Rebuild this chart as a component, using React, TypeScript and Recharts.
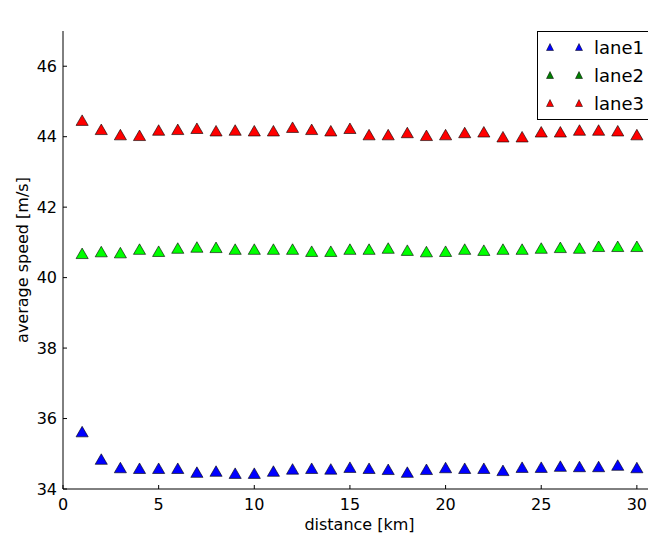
import React from 'react';
import { ScatterChart, Scatter, XAxis, YAxis, ZAxis, Label } from 'recharts';

const distance = [1, 2, 3, 4, 5, 6, 7, 8, 9, 10, 11, 12, 13, 14, 15, 16, 17, 18, 19, 20, 21, 22, 23, 24, 25, 26, 27, 28, 29, 30];

const lane1 = [35.58, 34.8, 34.56, 34.54, 34.54, 34.54, 34.43, 34.46, 34.4, 34.4, 34.46, 34.52, 34.54, 34.52, 34.57,
  34.54, 34.51, 34.43, 34.51, 34.56, 34.54, 34.54, 34.48, 34.57, 34.57, 34.6, 34.59, 34.59, 34.63, 34.56];

const lane2 = [40.64, 40.69, 40.66, 40.76, 40.7, 40.79, 40.82, 40.81, 40.76, 40.76, 40.76, 40.76, 40.7, 40.7, 40.76,
  40.76, 40.79, 40.73, 40.69, 40.7, 40.76, 40.73, 40.76, 40.76, 40.79, 40.81, 40.79, 40.84, 40.84, 40.84];

const lane3 = [44.42, 44.16, 44.01, 43.99, 44.14, 44.16, 44.19, 44.12, 44.14, 44.12, 44.12, 44.22, 44.16, 44.12, 44.19,
  44.01, 44.01, 44.07, 43.99, 44.01, 44.07, 44.09, 43.95, 43.95, 44.09, 44.09, 44.14, 44.14, 44.12, 44.01];

const xTicks = [0, 5, 10, 15, 20, 25, 30];
const yTicks = [34, 36, 38, 40, 42, 44, 46];

const lanes = [
  { name: 'lane1', values: lane1, fill: '#0000ff', legend: '#0000ff' },
  { name: 'lane2', values: lane2, fill: '#00ff00', legend: '#007f00' },
  { name: 'lane3', values: lane3, fill: '#ff0000', legend: '#ff0000' },
];

const toPoints = (values: number[]) => distance.map((d, i) => ({ x: d, y: values[i] }));

const font = 'DejaVu Sans, sans-serif';
const tickStyle = { fontSize: 16, fill: '#000', fontFamily: font };

const LegendTriangle = ({ color }: { color: string }) => (
  <svg width={10} height={10} style={{ display: 'block' }}>
    <polygon points="5,1.5 1.5,8.5 8.5,8.5" fill={color} stroke="#000" strokeWidth={0.5} />
  </svg>
);

const LaneLegend = () => (
  <div
    style={{
      position: 'absolute',
      left: 537,
      top: 31,
      width: 140,
      height: 89,
      border: '1px solid #000',
      background: '#fff',
      boxSizing: 'border-box',
      fontFamily: font,
      fontSize: 18,
    }}
  >
    {lanes.map((l, i) => (
      <div key={l.name} style={{ position: 'absolute', top: 2 + i * 28, left: 0, height: 26, display: 'flex', alignItems: 'center' }}>
        <div style={{ marginLeft: 7 }}><LegendTriangle color={l.legend} /></div>
        <div style={{ marginLeft: 19 }}><LegendTriangle color={l.legend} /></div>
        <span style={{ marginLeft: 10 }}>{l.name}</span>
      </div>
    ))}
  </div>
);

export default function App() {
  return (
    <div style={{ position: 'absolute', left: 0, top: 0, width: 648, height: 536, overflow: 'hidden', background: '#fff' }}>
      <ScatterChart width={668} height={536} margin={{ top: 31, right: 12, bottom: 0, left: 8 }}>
        <XAxis
          xAxisId="top"
          orientation="top"
          dataKey="x"
          type="number"
          domain={[0, 31]}
          ticks={xTicks}
          height={0}
          tick={false}
          tickSize={-4}
          stroke="#000"
        >
          <Label
            position="top"
            offset={6}
            value="average speed per lane"
            style={{ fontSize: 18, fill: '#000', fontFamily: font }}
          />
        </XAxis>
        <XAxis
          dataKey="x"
          type="number"
          domain={[0, 31]}
          ticks={xTicks}
          height={47}
          tickSize={-4}
          tickMargin={14}
          tick={tickStyle}
          stroke="#000"
        >
          <Label
            position="insideBottom"
            offset={6}
            value="distance [km]"
            style={{ fontSize: 16, fill: '#000', fontFamily: font }}
          />
        </XAxis>
        <YAxis
          dataKey="y"
          type="number"
          domain={[34, 47]}
          ticks={yTicks}
          width={55}
          tickSize={-4}
          tickMargin={10}
          tick={tickStyle}
          stroke="#000"
        >
          <Label
            content={(props: any) => {
              const vb = props.viewBox || { x: 0, y: 0, width: 0, height: 0 };
              const cx = vb.x + 20;
              const cy = vb.y + vb.height / 2;
              return (
                <text
                  x={cx}
                  y={cy}
                  transform={`rotate(-90 ${cx} ${cy})`}
                  textAnchor="middle"
                  fontSize={16}
                  fontFamily={font}
                  fill="#000"
                >
                  average speed [m/s]
                </text>
              );
            }}
          />
        </YAxis>
        <ZAxis range={[28, 28]} />
        {lanes.map((l) => (
          <Scatter
            key={l.name}
            name={l.name}
            data={toPoints(l.values)}
            shape="triangle"
            fill={l.fill}
            stroke="#000"
            strokeWidth={0.6}
            isAnimationActive={false}
          />
        ))}
      </ScatterChart>
      <LaneLegend />
    </div>
  );
}
